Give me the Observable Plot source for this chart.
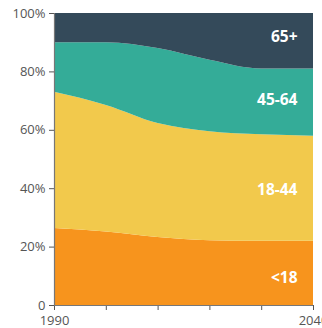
<!DOCTYPE html>
<html><head><meta charset="utf-8">
<script src="https://cdn.jsdelivr.net/npm/d3@7"></script>
<script src="https://cdn.jsdelivr.net/npm/@observablehq/plot@0.6"></script>
<style>body{margin:0;background:#fff;font-family:"Open Sans",sans-serif}</style>
</head><body><div id="c"></div>
<script>
const years = [1990, 2000, 2010, 2020, 2030, 2040];
const groups = ["<18", "18-44", "45-64", "65+"];
const under18 = [26.4, 25.2, 23.3, 22.2, 22.0, 22.0];
const age18to44 = [46.6, 43.3, 39.0, 37.3, 36.5, 36.0];
const age45to64 = [17.0, 21.5, 25.7, 24.5, 22.5, 23.0];
const age65plus = [10.0, 10.0, 12.0, 16.0, 19.0, 19.0];
const colors = ["#F7941D", "#F2C94C", "#34AC98", "#344A5A"];
const yTicks = [0, 20, 40, 60, 80, 100];
const yTickLabels = ["0", "20%", "40%", "60%", "80%", "100%"];
const xTicks = [1990, 2000, 2010, 2020, 2030, 2040];
const xTickLabels = ["1990", "", "", "", "", "2040"];

const series = [under18, age18to44, age45to64, age65plus];
const data = [];
groups.forEach((g, i) => years.forEach((y, j) => data.push({group: g, year: y, value: series[i][j]})));
const labels = groups.map(g => ({group: g, year: 2040}));
const labelY = [9.5, 39.5, 70.5, 92];
labels.forEach((l, i) => l.mid = labelY[i]);

const chart = Plot.plot({
  width: 322, height: 328,
  marginLeft: 54, marginRight: 9, marginTop: 13, marginBottom: 23,
  style: {fontFamily: "Open Sans, sans-serif", fontSize: "13px", color: "#555"},
  x: {domain: [1990, 2040], ticks: xTicks, tickFormat: d => xTickLabels[xTicks.indexOf(d)], tickSize: 5, tickPadding: 5, label: null},
  y: {domain: [0, 100], ticks: yTicks, tickFormat: d => yTickLabels[yTicks.indexOf(d)], tickSize: 5, label: null},
  color: {domain: groups, range: colors},
  marks: [
    Plot.areaY(data, {x: "year", y: "value", fill: "group", order: groups, curve: "monotone-x"}),
    Plot.ruleX([1990], {stroke: "#777", strokeWidth: 1.2}),
    Plot.ruleY([0], {stroke: "#777", strokeWidth: 1.2}),
    Plot.text(labels, {x: "year", y: "mid", text: "group", fill: "white", fontWeight: "bold", fontSize: 15.5, textAnchor: "end", dx: -16})
  ]
});
document.getElementById("c").append(chart);
</script></body></html>
